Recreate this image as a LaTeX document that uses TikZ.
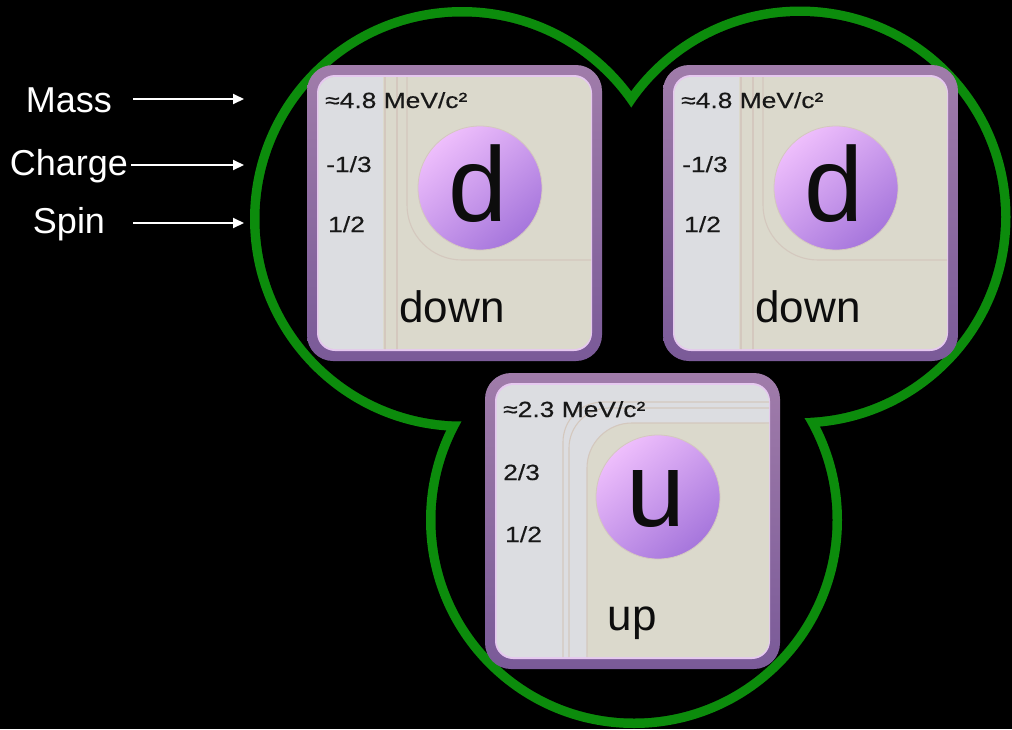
\documentclass[tikz,border=0pt]{standalone}
\usepackage{fontspec}
\setmainfont{Liberation Sans}
\newfontfamily\widefont[FakeStretch=1.2,FakeBold=0.3]{Liberation Sans}
\usetikzlibrary{arrows.meta}

\definecolor{ringgreen}{RGB}{12,140,12}
\definecolor{frameTop}{RGB}{160,124,170}
\definecolor{frameBot}{RGB}{122,90,152}
\definecolor{rim}{RGB}{230,200,240}
\definecolor{strip}{RGB}{220,221,225}
\definecolor{paper}{RGB}{219,217,204}
\definecolor{seam}{RGB}{212,200,190}
\definecolor{ballTop}{RGB}{238,190,252}
\definecolor{ballBot}{RGB}{166,118,220}
\definecolor{ink}{RGB}{24,24,24}

\tikzset{
  tag/.style={text=white, font=\fontsize{36}{40}\selectfont, anchor=base, inner sep=0},
  pointer/.style={white, line width=2, -{Triangle[length=11,width=10]}},
  prop/.style={text=ink, font=\widefont\fontsize{22}{26}\selectfont, anchor=base west, inner sep=0},
  ball/.style={circle, minimum size=124, inner sep=0, draw=seam, line width=0.8,
    shading=axis, top color=ballTop, bottom color=ballBot, shading angle=40},
  symbol/.style={text=black!95, font=\fontsize{106}{110}\selectfont, inner sep=0},
  flavour/.style={text=black!95, font=\fontsize{44}{48}\selectfont, anchor=base, inner sep=0},
  seamline/.style={seam, line width=1.1},
}

% frame and two-tone face of one particle card
\newcommand\cardframe{%
  \path[shading=axis, top color=frameTop, bottom color=frameBot, rounded corners=26]
    (0,0) rectangle (295,296);
  \fill[rim, rounded corners=18] (10,10) rectangle (285,286);
}

\begin{document}
\begin{tikzpicture}[x=1pt,y=-1pt]
\useasboundingbox (0,0) rectangle (1012,729);
\fill[black] (0,0) rectangle (1012,729);

% green outline: union of three circles
\coordinate (cl) at (462,219);
\coordinate (cr) at (800,217);
\coordinate (cb) at (634,520);
\draw[ringgreen, line width=19] (cl) circle (202.5pt);
\draw[ringgreen, line width=19] (cr) circle (201pt);
\draw[ringgreen, line width=19] (cb) circle (198.5pt);
\fill[black] (cl) circle (202.5pt);
\fill[black] (cr) circle (201pt);
\fill[black] (cb) circle (198.5pt);

% left down quark
\begin{scope}[shift={(307,65)}]
  \cardframe
  \begin{scope}
    \clip[rounded corners=17] (11.5,12) rectangle (284,284);
    \fill[paper] (0,0) rectangle (295,296);
    \fill[strip] (0,0) rectangle (76,296);
    \draw[seamline] (78,0) -- (78,296);
    \draw[seamline] (90,0) -- (90,296);
    \draw[seamline, rounded corners=55] (100,0) -- (100,195) -- (296,195);
  \end{scope}
  \node[prop] (m1) at (18,43) {≈4.8 MeV/c²};
  \node[prop] (q1) at (19,107) {-1/3};
  \node[prop] (s1) at (21,167) {1/2};
  \node[ball] (b1) at (173,123) {};
  \node[symbol] (d1) at (171,119) {d};
  \node[flavour] (n1) at (145,257) {down};
\end{scope}

% right down quark
\begin{scope}[shift={(663,65)}]
  \cardframe
  \begin{scope}
    \clip[rounded corners=17] (11.5,12) rectangle (284,284);
    \fill[paper] (0,0) rectangle (295,296);
    \fill[strip] (0,0) rectangle (76,296);
    \draw[seamline] (78,0) -- (78,296);
    \draw[seamline] (90,0) -- (90,296);
    \draw[seamline, rounded corners=55] (100,0) -- (100,195) -- (296,195);
  \end{scope}
  \node[prop] (m2) at (18,43) {≈4.8 MeV/c²};
  \node[prop] (q2) at (19,107) {-1/3};
  \node[prop] (s2) at (21,167) {1/2};
  \node[ball] (b2) at (173,123) {};
  \node[symbol] (d2) at (171,119) {d};
  \node[flavour] (n2) at (145,257) {down};
\end{scope}

% up quark
\begin{scope}[shift={(485,373)}]
  \cardframe
  \begin{scope}
    \clip[rounded corners=17] (11.5,12) rectangle (284,284);
    \fill[strip] (0,0) rectangle (296,296);
    \fill[paper, rounded corners=45] (102,50) rectangle (320,320);
    \draw[seamline, rounded corners=40] (78,296) -- (78,29) -- (296,29);
    \draw[seamline, rounded corners=40] (84,296) -- (84,35) -- (296,35);
    \draw[seamline, rounded corners=45] (102,296) -- (102,50) -- (296,50);
  \end{scope}
  \node[prop] (m3) at (18,44) {≈2.3 MeV/c²};
  \node[prop] (q3) at (18,107) {2/3};
  \node[prop] (s3) at (20,169) {1/2};
  \node[ball] (b3) at (173,124) {};
  \node[symbol] (u3) at (171,126) {u};
  \node[flavour] (n3) at (147,257) {up};
\end{scope}

% property legend
\node[tag] (mass) at (69,112) {Mass};
\node[tag] (charge) at (69,175) {Charge};
\node[tag] (spin) at (69,233) {Spin};
\coordinate (massTail) at (133,99);
\coordinate (massHead) at (244,99);
\coordinate (chargeTail) at (131,165);
\coordinate (chargeHead) at (244,165);
\coordinate (spinTail) at (133,223);
\coordinate (spinHead) at (244,223);
\draw[pointer] (massTail) -- (massHead);
\draw[pointer] (chargeTail) -- (chargeHead);
\draw[pointer] (spinTail) -- (spinHead);
\end{tikzpicture}
\end{document}
